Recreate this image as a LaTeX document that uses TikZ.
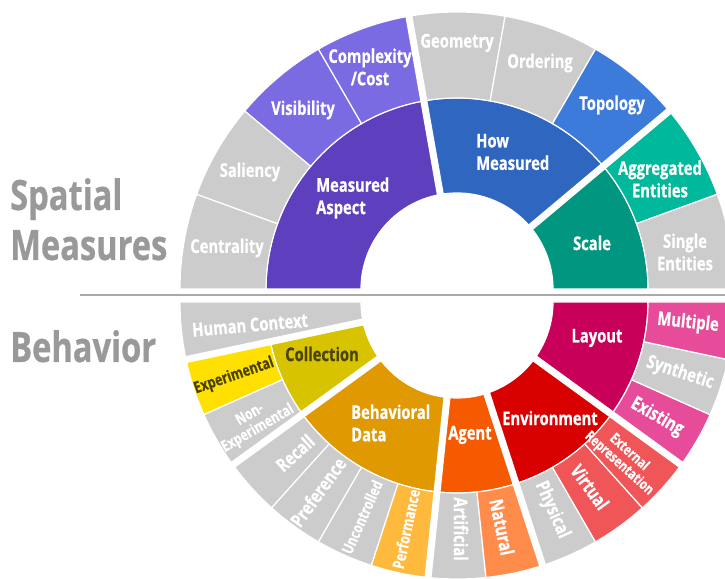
\documentclass[tikz,border=0pt]{standalone}
\usepackage{fontspec}
\newfontfamily\lbl{Open Sans}[FakeStretch=0.78, BoldFeatures={FakeBold=0.6}]
\definecolor{gr}{HTML}{CCCCCC}
\definecolor{maC}{HTML}{5E3FBE}
\definecolor{maL}{HTML}{7B6BE3}
\definecolor{hmC}{HTML}{2F66C0}
\definecolor{hmL}{HTML}{3D7BDB}
\definecolor{scC}{HTML}{00967F}
\definecolor{scL}{HTML}{00B89C}
\definecolor{loC}{HTML}{C8005A}
\definecolor{loL}{HTML}{E64C9A}
\definecolor{enC}{HTML}{D90000}
\definecolor{enL}{HTML}{F05658}
\definecolor{agC}{HTML}{F55A00}
\definecolor{agL}{HTML}{FF8C4B}
\definecolor{bdC}{HTML}{E09900}
\definecolor{bdL}{HTML}{FFB93C}
\definecolor{coC}{HTML}{D8C300}
\definecolor{coL}{HTML}{FFE000}
\definecolor{coT}{HTML}{4A4200}
\definecolor{ttlc}{HTML}{999999}
\definecolor{rulec}{HTML}{AAAAAA}
\newcommand\seg[6]{%
  \filldraw[fill=#6, draw=white, line width=1.2bp, shift={(#1)}]
    (#2:#4 bp) arc[start angle=#2, end angle=#3, radius=#4 bp]
    -- (#3:#5 bp) arc[start angle=#3, end angle=#2, radius=#5 bp] -- cycle;}
\begin{document}
\begin{tikzpicture}[x=1bp,y=1bp,
  lab/.style={font=\lbl\bfseries\fontsize{19}{22.5}\selectfont, text=white, align=center, inner sep=0pt},
  smalllab/.style={lab, font=\lbl\bfseries\fontsize{16}{17}\selectfont},
  tinylab/.style={lab, font=\lbl\bfseries\fontsize{15.5}{16}\selectfont},
  ttl/.style={font=\lbl\bfseries\fontsize{42}{44}\selectfont, text=ttlc, inner sep=0pt},
  gapline/.style={white, line width=7bp}]
\useasboundingbox (0,0) rectangle (725,579);
\clip (0,0) rectangle (725,579);
\coordinate (Ct) at (457,290);
\coordinate (Cb) at (457,277);
% ---- top half: middle ring
\seg{Ct}{100}{180}{96}{191}{maC}
\seg{Ct}{40}{100}{96}{191}{hmC}
\seg{Ct}{0}{40}{96}{191}{scC}
% ---- top half: outer ring
\seg{Ct}{160}{180}{191}{277}{gr}
\seg{Ct}{140}{160}{191}{277}{gr}
\seg{Ct}{120}{140}{191}{277}{maL}
\seg{Ct}{100}{120}{191}{277}{maL}
\seg{Ct}{80}{100}{191}{277}{gr}
\seg{Ct}{60}{80}{191}{277}{gr}
\seg{Ct}{40}{60}{191}{277}{hmL}
\seg{Ct}{20}{40}{191}{277}{scL}
\seg{Ct}{0}{20}{191}{277}{gr}
% ---- bottom half
\seg{Cb}{180}{192}{96}{277}{gr}
\seg{Cb}{192}{216}{96}{191}{coC}
\seg{Cb}{216}{264}{96}{191}{bdC}
\seg{Cb}{264}{288}{96}{191}{agC}
\seg{Cb}{288}{324}{96}{191}{enC}
\seg{Cb}{324}{360}{96}{191}{loC}
\seg{Cb}{192}{204}{191}{277}{coL}
\seg{Cb}{204}{216}{191}{277}{gr}
\seg{Cb}{216}{228}{191}{277}{gr}
\seg{Cb}{228}{240}{191}{277}{gr}
\seg{Cb}{240}{252}{191}{277}{gr}
\seg{Cb}{252}{264}{191}{277}{bdL}
\seg{Cb}{264}{276}{191}{277}{gr}
\seg{Cb}{276}{288}{191}{277}{agL}
\seg{Cb}{288}{300}{191}{277}{gr}
\seg{Cb}{300}{312}{191}{277}{enL}
\seg{Cb}{312}{324}{191}{277}{enL}
\seg{Cb}{324}{336}{191}{277}{loL}
\seg{Cb}{336}{348}{191}{277}{gr}
\seg{Cb}{348}{360}{191}{277}{loL}
% ---- gaps between groups
\foreach \a in {100,40} {\draw[gapline, shift={(Ct)}] (\a:88bp) -- (\a:286bp);}
\foreach \a in {192,216,264,288,324} {\draw[gapline, shift={(Cb)}] (\a:88bp) -- (\a:286bp);}
% ---- separator rule
\draw[rulec, line width=2.5bp] (80,284) -- (725,284);
% ---- titles
\node[ttl, anchor=base west] (tSpatial) at (10,369) {Spatial};
\node[ttl, anchor=base west] (tMeasures) at (10,319) {Measures};
\node[ttl, anchor=base west] (tBehavior) at (10,217) {Behavior};
% ---- top labels
\node[lab] (lCentrality) at (227,331) {Centrality};
\node[lab] (lSaliency) at (250,407) {Saliency};
\node[lab] (lVisibility) at (303,469) {Visibility};
\node[lab] (lComplexity) at (370,512) {Complexity\\/Cost};
\node[lab, align=left, anchor=west] (lMeasured) at (316,381) {Measured\\Aspect};
\node[lab] (lGeometry) at (457,536) {Geometry};
\node[lab] (lOrdering) at (540,516) {Ordering};
\node[lab] (lTopology) at (612,474) {Topology};
\node[lab, align=left, anchor=west] (lHow) at (476,427) {How\\Measured};
\node[lab] (lAggregated) at (660,400) {Aggregated\\Entities};
\node[lab] (lScale) at (592,336) {Scale};
\node[lab] (lSingle) at (685,327) {Single\\Entities};
% ---- bottom labels
\node[lab, rotate=5] (lHuman) at (250,254) {Human Context};
\node[lab, text=coT] (lCollection) at (322,225) {Collection};
\node[smalllab, text=coT, rotate=19] (lExperimental) at (234,203) {Experimental};
\node[tinylab, rotate=30] (lNonExp) at (254,157) {Non-\\Experimental};
\node[lab, rotate=42] (lRecall) at (295,126) {Recall};
\node[lab, rotate=54] (lPreference) at (318,87) {Preference};
\node[tinylab, rotate=66] (lUncontrolled) at (362,62) {Uncontrolled};
\node[smalllab, rotate=78] (lPerformance) at (406,50) {Performance};
\node[lab, align=left, anchor=west] (lBehavioral) at (351,156) {Behavioral\\Data};
\node[lab] (lAgent) at (470,144) {Agent};
\node[lab, rotate=-90] (lArtificial) at (461,50) {Artificial};
\node[lab, rotate=-78] (lNatural) at (502,52) {Natural};
\node[lab, rotate=-66] (lPhysical) at (552,69) {Physical};
\node[lab, rotate=-54] (lVirtual) at (590,92) {Virtual};
\node[tinylab, rotate=-42, font=\lbl\bfseries\fontsize{14.5}{15}\selectfont] (lExternal) at (624,121) {External\\Representation};
\node[lab] (lEnvironment) at (550,161) {Environment};
\node[lab] (lLayout) at (597,241) {Layout};
\node[lab, rotate=-30] (lExisting) at (657,162) {Existing};
\node[lab, rotate=-18] (lSynthetic) at (680,206) {Synthetic};
\node[lab, rotate=-6] (lMultiple) at (688,256) {Multiple};
\end{tikzpicture}
\end{document}
